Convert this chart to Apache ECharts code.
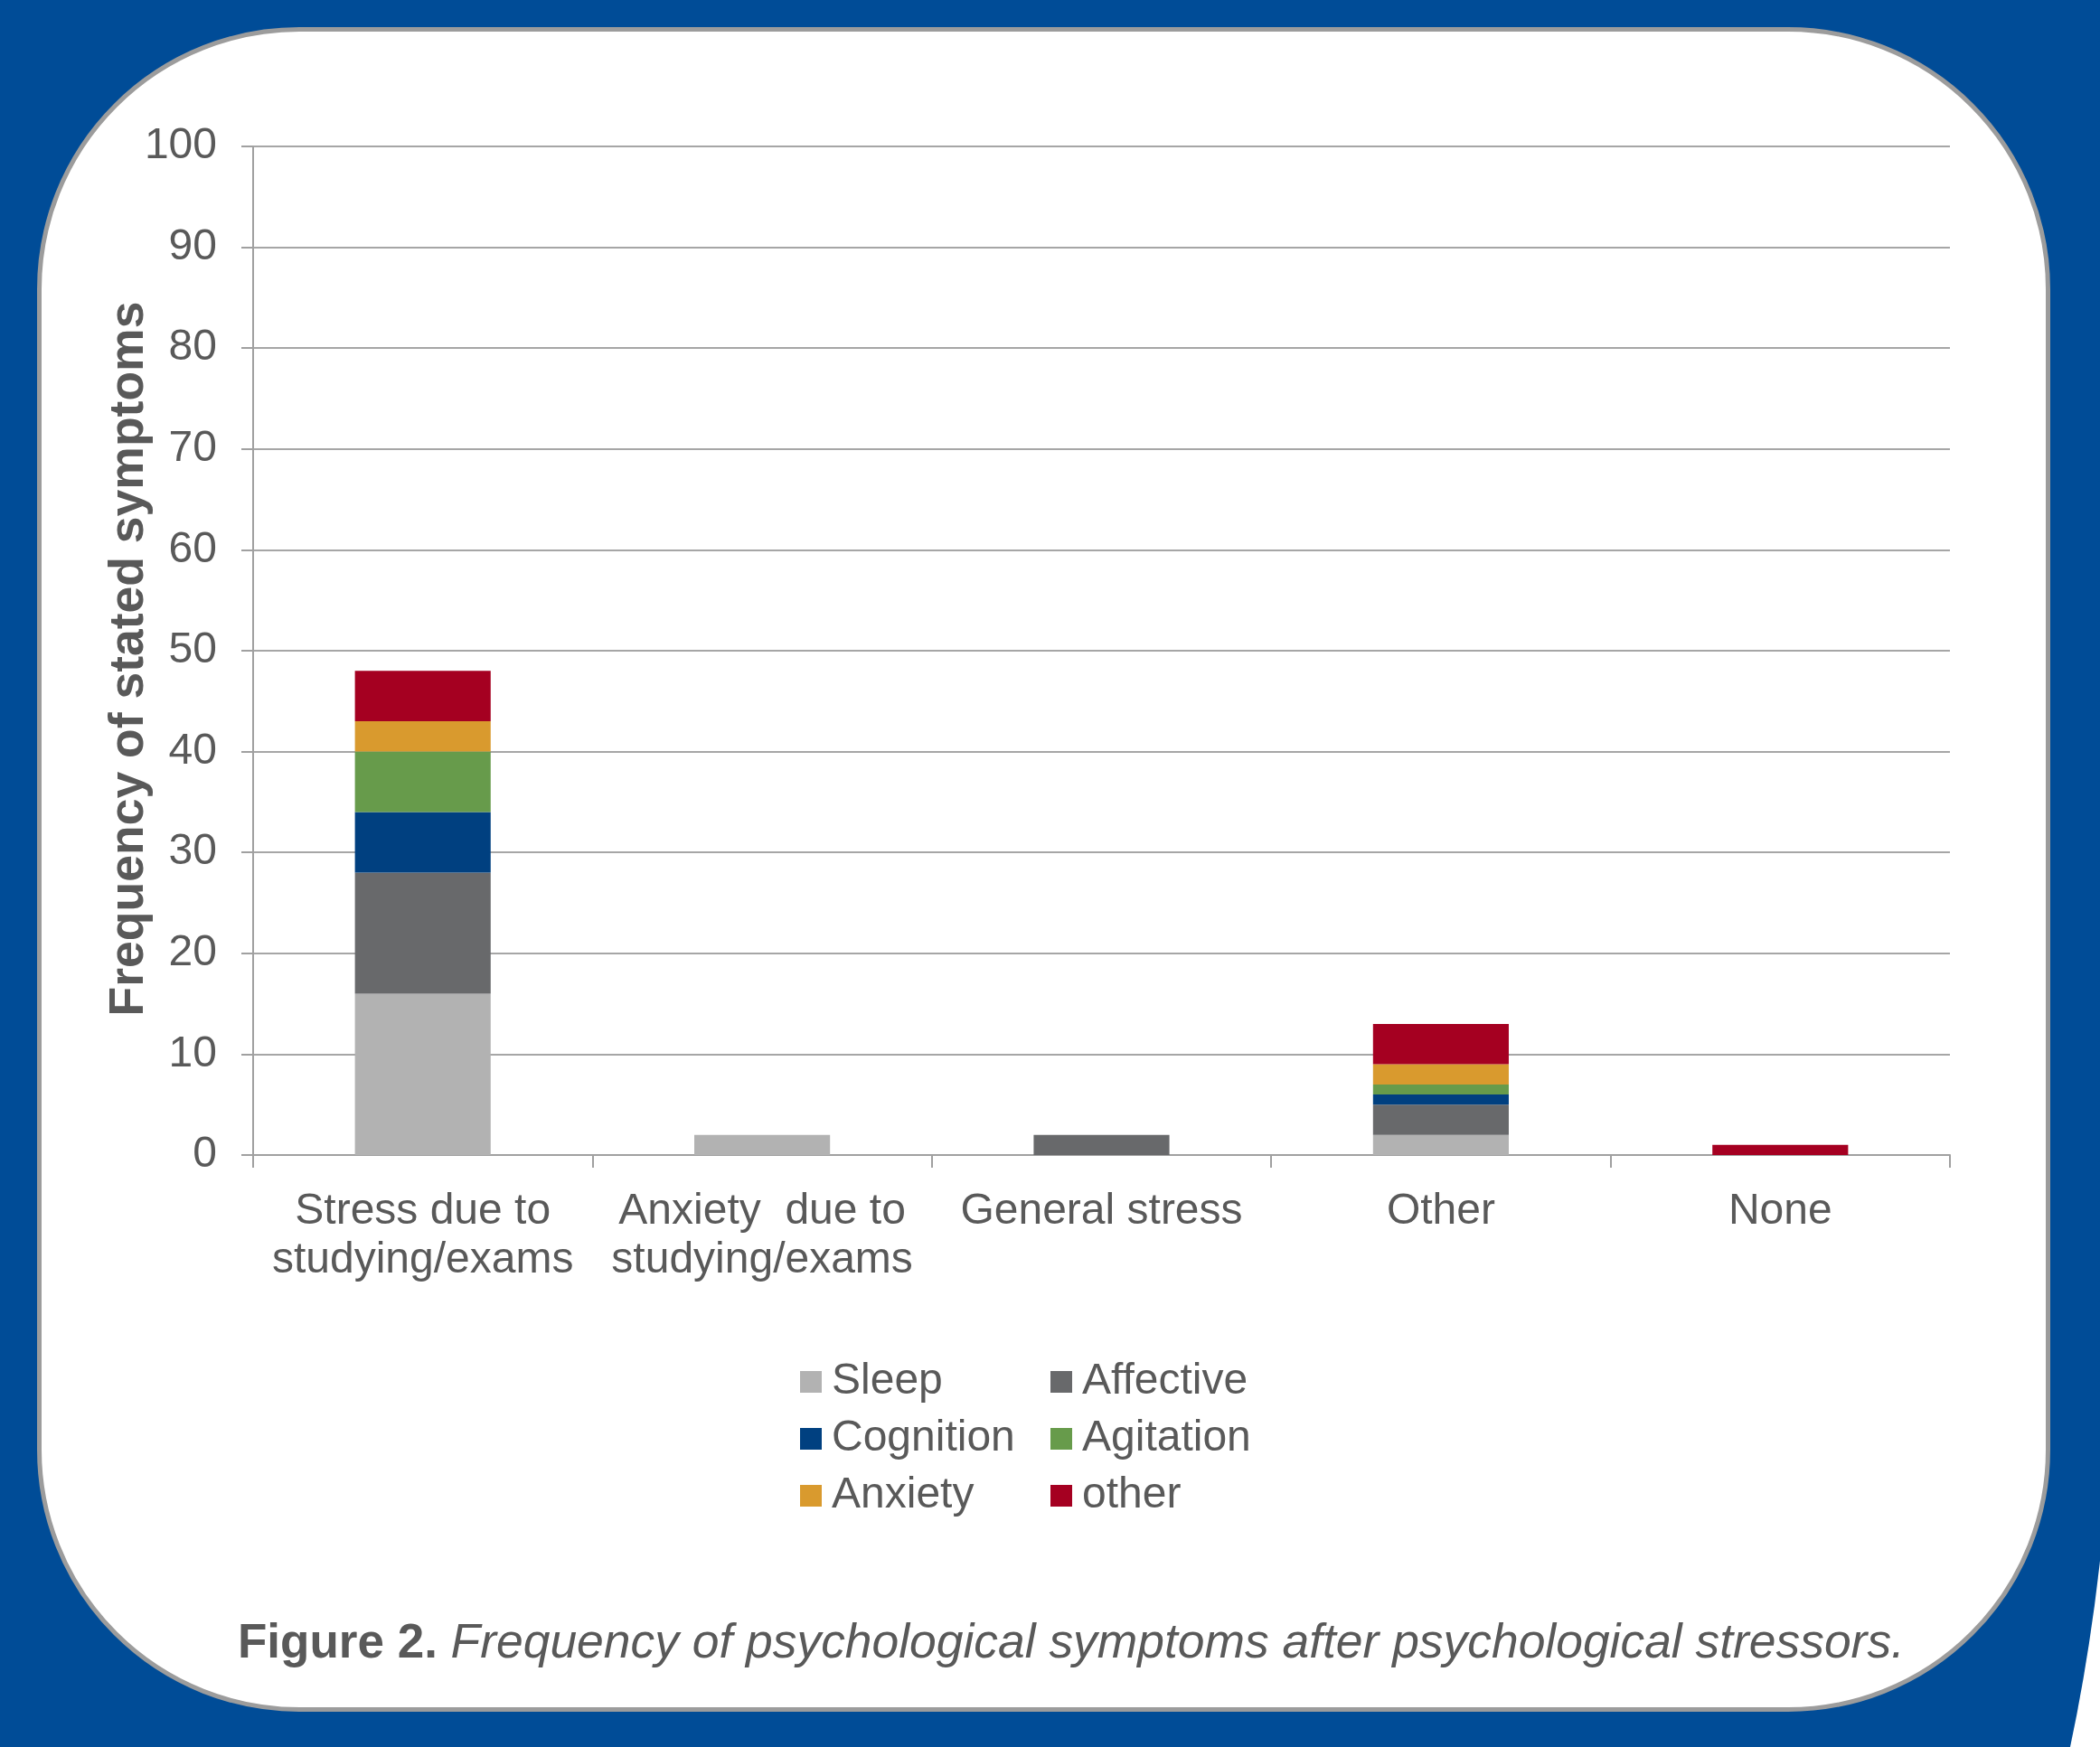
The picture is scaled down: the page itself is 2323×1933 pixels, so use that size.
<!DOCTYPE html>
<html>
<head>
<meta charset="utf-8">
<script src="https://cdn.jsdelivr.net/npm/echarts@6/dist/echarts.min.js"></script>
<style>
html, body { margin: 0; padding: 0; background: #ffffff; overflow: hidden; }
#frame {
    position: absolute; left: 0; top: 0;
    width: 2340px; height: 2350px;
    background: #004C97;
    border-bottom-right-radius: 300px 932px;
}
#card {
    position: absolute; left: 41px; top: 30px;
    width: 2227px; height: 1864px;
    box-sizing: border-box;
    background: #ffffff;
    border: 5px solid #9c9c9c;
    border-radius: 290px;
}
#chart { position: absolute; left: 0; top: 0; width: 2323px; height: 1933px; }
</style>
</head>
<body>
<div id="frame"></div>
<div id="card"></div>
<div id="chart"></div>
<script>
// categories and stacked values
var categories = ['Stress due to\nstudying/exams', 'Anxiety  due to\nstudying/exams', 'General stress', 'Other', 'None'];
var sleep     = [16, 2, 0, 2, 0];
var affective = [12, 0, 2, 3, 0];
var cognition = [6, 0, 0, 1, 0];
var agitation = [6, 0, 0, 1, 0];
var anxiety   = [3, 0, 0, 2, 0];
var other     = [5, 0, 0, 4, 1];
var yTicks = [0, 100, 10];

var font = 'Liberation Sans, Arial, sans-serif';
var textColor = '#595959';

function stack(name, data, color) {
    return {
        name: name,
        type: 'bar',
        stack: 'total',
        barWidth: '40%',
        data: data,
        itemStyle: { color: color }
    };
}

var legendBase = {
    orient: 'vertical',
    top: 1499,
    itemWidth: 24,
    itemHeight: 24,
    itemGap: 13,
    icon: 'rect',
    textStyle: { fontFamily: font, fontSize: 48, lineHeight: 50, color: textColor, padding: [0, 0, 0, 6] }
};

var myChart = echarts.init(document.getElementById('chart'));
var option = {
    backgroundColor: 'transparent',
    animation: false,
    title: {
        left: 258,
        top: 1784,
        text: '{b|Figure 2. }{i|Frequency of psychological symptoms after psychological stressors.}',
        textStyle: {
            fontWeight: 'normal',
            rich: {
                b: { fontFamily: font, fontSize: 53, fontWeight: 'bold', color: textColor, lineHeight: 60 },
                i: { fontFamily: font, fontSize: 53.4, fontWeight: 'normal', fontStyle: 'italic', color: textColor, lineHeight: 60 }
            }
        }
    },
    legend: [
        Object.assign({}, legendBase, { left: 880, data: ['Sleep', 'Cognition', 'Anxiety'] }),
        Object.assign({}, legendBase, { left: 1157, data: ['Affective', 'Agitation', 'other'] })
    ],
    grid: { left: 280, right: 166, top: 162, bottom: 655 },
    xAxis: {
        type: 'category',
        data: categories,
        axisLine: { lineStyle: { color: '#a0a0a0', width: 2 } },
        axisTick: { show: true, length: 14, lineStyle: { color: '#a0a0a0', width: 2 } },
        axisLabel: { fontFamily: font, fontSize: 48, lineHeight: 54, color: textColor, margin: 36, interval: 0 }
    },
    yAxis: {
        type: 'value',
        min: yTicks[0],
        max: yTicks[1],
        interval: yTicks[2],
        name: 'Frequency of stated symptoms',
        nameLocation: 'middle',
        nameGap: 110,
        nameMoveOverlap: false,
        nameTextStyle: { fontFamily: font, fontSize: 53.5, fontWeight: 'bold', color: textColor, padding: [0, 18, 0, 0] },
        axisLine: { show: true, lineStyle: { color: '#a0a0a0', width: 2 } },
        axisTick: { show: true, length: 13, lineStyle: { color: '#a0a0a0', width: 2 } },
        splitLine: { lineStyle: { color: '#a6a6a6', width: 2 } },
        axisLabel: { fontFamily: font, fontSize: 48, color: textColor, margin: 40 }
    },
    series: [
        stack('Sleep', sleep, '#b2b2b2'),
        stack('Affective', affective, '#68696b'),
        stack('Cognition', cognition, '#004080'),
        stack('Agitation', agitation, '#679b4b'),
        stack('Anxiety', anxiety, '#d99a2e'),
        stack('other', other, '#a50021')
    ]
};
myChart.setOption(option);
</script>
</body>
</html>
